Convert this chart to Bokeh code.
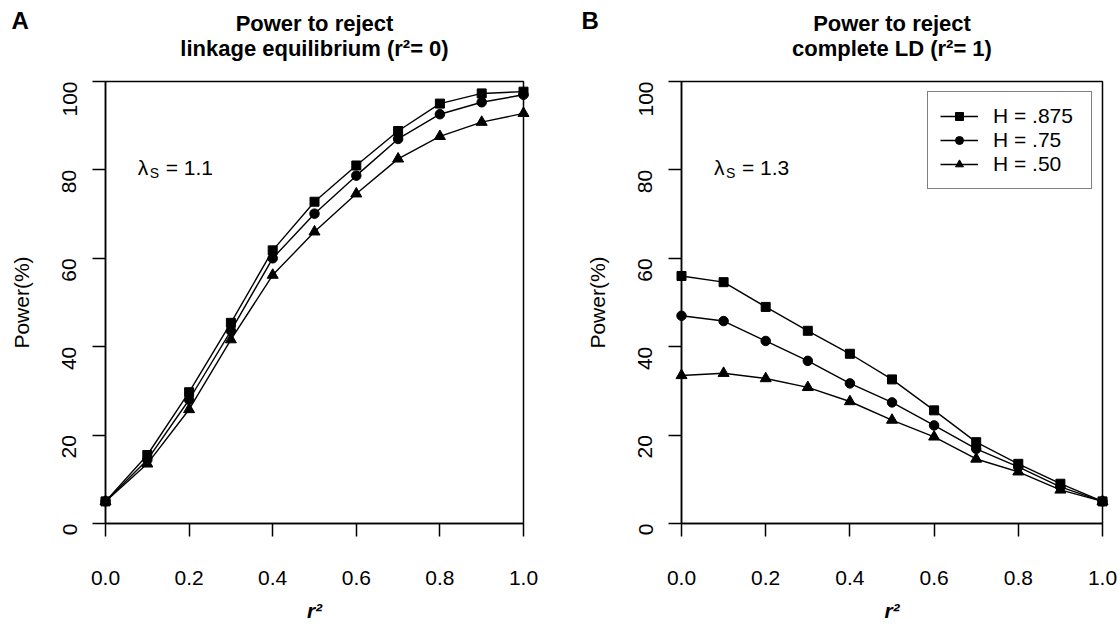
import math
from bokeh.plotting import figure
from bokeh.models import (Range1d, FixedTicker, Label, Legend, LegendItem, Title,
                          PrintfTickFormatter)
from bokeh.layouts import row
from bokeh.embed import file_html
from bokeh.resources import INLINE

# ---------------- data ----------------
r2 = [0.0, 0.1, 0.2, 0.3, 0.4, 0.5, 0.6, 0.7, 0.8, 0.9, 1.0]

# Panel A: power to reject linkage equilibrium (r^2 = 0), lambda_S = 1.1
a_h875 = [5.0, 15.5, 29.7, 45.4, 61.8, 72.8, 81.0, 88.8, 95.0, 97.3, 97.7]
a_h75 = [5.0, 14.4, 28.0, 43.6, 60.0, 70.1, 78.7, 87.0, 92.6, 95.3, 97.0]
a_h50 = [5.0, 13.5, 25.8, 41.6, 56.2, 66.0, 74.6, 82.5, 87.6, 90.8, 92.8]

# Panel B: power to reject complete LD (r^2 = 1), lambda_S = 1.3
b_h875 = [56.0, 54.6, 49.0, 43.6, 38.4, 32.6, 25.6, 18.4, 13.5, 9.0, 5.0]
b_h75 = [47.0, 45.8, 41.3, 36.8, 31.7, 27.4, 22.2, 16.9, 12.8, 8.3, 5.0]
b_h50 = [33.5, 34.0, 32.8, 30.8, 27.6, 23.4, 19.6, 14.6, 11.7, 7.6, 5.0]

series_labels = ["H = .875", "H = .75", "H = .50"]
markers = ["square", "circle", "triangle"]
marker_sizes = [9, 9.5, 11]

x_ticks = [0.0, 0.2, 0.4, 0.6, 0.8, 1.0]
y_ticks = [0, 20, 40, 60, 80, 100]

FONT = "Liberation Sans"
FS = "21px"
H = 624
FRAME_TOP = 81
FRAME_BOTTOM = 528


def make_panel(letter, title1, title2, lam_value, series, width, bl, br,
               letter_dx, with_legend):
    p = figure(width=width, height=H, output_backend="svg", toolbar_location=None,
               x_range=Range1d(0, 1), y_range=Range1d(0, 100),
               min_border_left=bl, min_border_right=br,
               min_border_top=FRAME_TOP, min_border_bottom=H - FRAME_BOTTOM,
               background_fill_color="white", border_fill_color="white")
    p.outline_line_color = "black"
    p.outline_line_width = 1.5
    p.xgrid.grid_line_color = None
    p.ygrid.grid_line_color = None

    for ax in (p.xaxis[0], p.yaxis[0]):
        ax.axis_line_width = 1.5
        ax.axis_line_color = "black"
        ax.major_tick_line_width = 1.5
        ax.major_tick_line_color = "black"
        ax.major_tick_out = 13
        ax.major_tick_in = 0
        ax.minor_tick_line_color = None
        ax.major_label_text_font = FONT
        ax.major_label_text_font_size = FS
        ax.major_label_text_color = "black"
        ax.axis_label_text_font = FONT
        ax.axis_label_text_font_size = FS
        ax.axis_label_text_color = "black"

    p.xaxis.ticker = FixedTicker(ticks=x_ticks)
    p.xaxis.formatter = PrintfTickFormatter(format="%.1f")
    p.xaxis.axis_label = "r\u00b2"
    p.xaxis.axis_label_text_font_style = "bold italic"
    p.xaxis.major_label_standoff = 34
    p.xaxis.axis_label_standoff = 11

    p.yaxis.ticker = FixedTicker(ticks=y_ticks)
    p.yaxis.major_label_orientation = math.pi / 2
    p.yaxis.major_label_standoff = 23
    p.yaxis.axis_label = "Power(%)"
    p.yaxis.axis_label_text_font_style = "normal"
    p.yaxis.axis_label_standoff = 20

    # second title line (a trailing blank line keeps it clear of the frame)
    p.add_layout(Title(text=title2 + "\n", align="center",
                       text_font=FONT, text_font_size="22px", text_font_style="bold",
                       text_line_height=0.95, text_color="black", standoff=-6),
                 "above")
    # first title line
    p.add_layout(Title(text=title1, align="center",
                       text_font=FONT, text_font_size="22px", text_font_style="bold",
                       text_line_height=0.95, text_color="black", standoff=2),
                 "above")
    # panel letter, level with the first title line
    p.add_layout(Title(text="\n" + letter, align="left", offset=letter_dx,
                       text_font=FONT, text_font_size="24px", text_font_style="bold",
                       text_color="black", standoff=-53), "above")

    items = []
    for vals, mk, ms, lab in zip(series, markers, marker_sizes, series_labels):
        ln = p.line(r2, vals, line_color="black", line_width=1.4, level="overlay")
        sc = p.scatter(r2, vals, marker=mk, size=ms, fill_color="black",
                       line_color="black", level="overlay")
        items.append(LegendItem(label=lab, renderers=[ln, sc]))

    # lambda_S annotation
    lx, ly = 0.077, 80.5
    p.add_layout(Label(x=lx, y=ly, text="\u03bb", text_font=FONT, text_font_size=FS,
                       text_baseline="middle", text_color="black"))
    p.add_layout(Label(x=lx, y=ly, x_offset=12, y_offset=-5, text="S", text_font=FONT,
                       text_font_size="14px", text_baseline="middle",
                       text_color="black"))
    p.add_layout(Label(x=lx, y=ly, x_offset=28, text="= " + lam_value, text_font=FONT,
                       text_font_size=FS, text_baseline="middle",
                       text_color="black"))

    if with_legend:
        leg = Legend(items=items, location="top_right", margin=10,
                     border_line_color="black", border_line_width=1,
                     background_fill_color="white", background_fill_alpha=1,
                     padding=12, spacing=0, glyph_width=38, glyph_height=20,
                     label_height=20, label_width=86, label_standoff=15,
                     label_text_font=FONT, label_text_font_size=FS,
                     label_text_color="black")
        p.add_layout(leg)
    return p


pA = make_panel("A", "Power to reject", "linkage equilibrium (r\u00b2= 0)", "1.1",
                [a_h875, a_h75, a_h50], 560, 105, 37, -94, False)
pB = make_panel("B", "Power to reject", "complete LD (r\u00b2= 1)", "1.3",
                [b_h875, b_h75, b_h50], 560, 121, 18, -100, True)

layout = row(pA, pB)
open("out.html", "w").write(file_html(layout, INLINE))
